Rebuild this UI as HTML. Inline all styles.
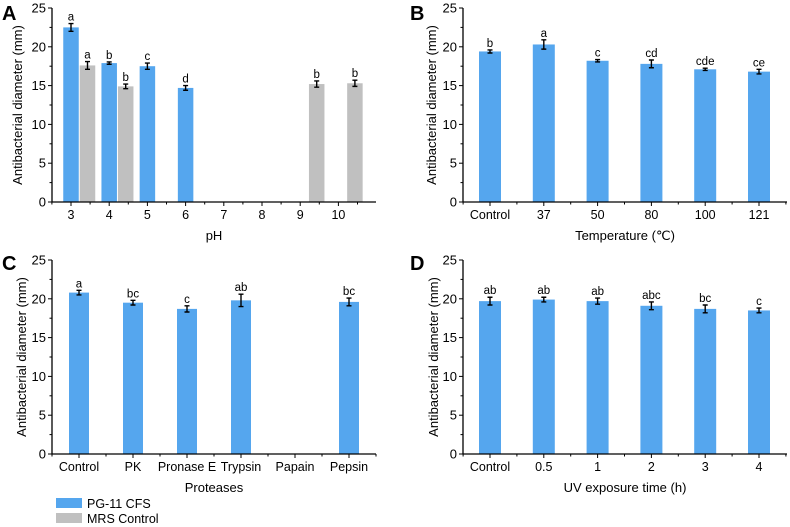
<!DOCTYPE html>
<html><head><meta charset="utf-8"><style>
body{margin:0;background:#fff;}
svg{display:block;font-family:"Liberation Sans",Arial,sans-serif;}
</style></head><body>
<svg id="fig" width="790" height="527" viewBox="0 0 790 527"></svg>
<script>
const aCats=["3","4","5","6","7","8","9","10"];
const aBlue=[22.5,17.9,17.5,14.7,null,null,null,null];
const aBlueErr=[0.5,0.15,0.4,0.3,0,0,0,0];
const aBlueLet=["a","b","c","d","","","",""];
const aGray=[17.6,14.9,null,null,null,null,15.2,15.3];
const aGrayErr=[0.5,0.3,0,0,0,0,0.4,0.4];
const aGrayLet=["a","b","","","","","b","b"];
const bCats=["Control","37","50","80","100","121"];
const bVals=[19.4,20.3,18.2,17.8,17.1,16.8];
const bErr=[0.2,0.6,0.15,0.5,0.15,0.3];
const bLet=["b","a","c","cd","cde","ce"];
const cCats=["Control","PK","Pronase E","Trypsin","Papain","Pepsin"];
const cVals=[20.8,19.5,18.7,19.8,null,19.6];
const cErr=[0.3,0.3,0.4,0.8,0,0.5];
const cLet=["a","bc","c","ab","","bc"];
const dCats=["Control","0.5","1","2","3","4"];
const dVals=[19.7,19.9,19.7,19.1,18.7,18.5];
const dErr=[0.5,0.3,0.4,0.5,0.5,0.3];
const dLet=["ab","ab","ab","abc","bc","c"];
const yTicks=[0,5,10,15,20,25];

const NS="http://www.w3.org/2000/svg";
const svg=document.getElementById('fig');
function el(tag,attrs,parent,text){const e=document.createElementNS(NS,tag);for(const k in attrs)e.setAttribute(k,attrs[k]);if(text!==undefined)e.textContent=text;(parent||svg).appendChild(e);return e;}
const BLUE="#55A6EE",GRAY="#C0C0C0";

function panel(o){
  const g=el('g',{});
  
  
  const y=v=>o.y0-(v/25)*(o.y0-o.y25);
  const x=i=>o.xc0+i*o.step;
  const L=el('text',{x:o.lx,y:o.ly,'font-size':20,'font-weight':'bold',fill:'#000'},g,o.letter);
  
  
  o.series.forEach(s=>{
    s.vals.forEach((v,i)=>{
      if(v===null)return;
      const cx=x(i)+s.off;
      const r=el('rect',{x:cx-o.bw/2,y:y(v),width:o.bw,height:o.y0-y(v),fill:s.color},g);
      
      
      const e=s.err[i],t=y(v+e),b=y(v-e);
      el('path',{d:`M${cx} ${t}V${b}M${cx-2.5} ${t}H${cx+2.5}M${cx-2.5} ${b}H${cx+2.5}`,stroke:'#000','stroke-width':1.4,fill:'none'},g);
      const lt=el('text',{x:cx,y:t-3,'font-size':11.5,'text-anchor':'middle',fill:'#000'},g,s.lets[i]);
      
      
    });
  });
  el('path',{d:`M${o.ax0} ${o.y25}V${o.y0}H${o.ax1}`,stroke:'#000','stroke-width':1.3,fill:'none'},g);
  for(let v=0;v<=25;v+=2.5){const len=(v%5===0)?4:2.5;el('line',{x1:o.ax0-len,x2:o.ax0,y1:y(v),y2:y(v),stroke:'#000','stroke-width':1},g);}
  yTicks.forEach(v=>{const t=el('text',{x:o.ax0-6,y:y(v)+4.5,'font-size':13,'text-anchor':'end',fill:'#000'},g,v);
    });
  o.cats.forEach((c,i)=>{
    el('line',{x1:x(i),x2:x(i),y1:o.y0,y2:o.y0+4,stroke:'#000','stroke-width':1},g);
    el('line',{x1:x(i)+o.step/2,x2:x(i)+o.step/2,y1:o.y0,y2:o.y0+2.5,stroke:'#000','stroke-width':1},g);
    const t=el('text',{x:x(i),y:o.y0+17,'font-size':12.5,'text-anchor':'middle',fill:'#000'},g,c);
    
  });
  el('line',{x1:x(0)-o.step/2,x2:x(0)-o.step/2,y1:o.y0,y2:o.y0+2.5,stroke:'#000','stroke-width':1},g);
  const xt=el('text',{x:(o.ax0+o.ax1)/2,y:o.y0+38,'font-size':13,'text-anchor':'middle',fill:'#000'},g,o.xtitle);
  
  const cy=(o.y0+o.y25)/2;
  const yt=el('text',{x:o.ytx,y:cy,'font-size':13,'text-anchor':'middle',fill:'#000',transform:`rotate(-90 ${o.ytx} ${cy})`},g,'Antibacterial diameter (mm)');
  
}

panel({name:'panel-a-ph',letter:'A',lx:2,ly:20,y0:202,y25:8,ax0:52,ax1:376,xc0:71,step:38.2,bw:15.5,cats:aCats,xtitle:'pH',ytx:22,
  series:[{key:'cfs',vals:aBlue,err:aBlueErr,lets:aBlueLet,color:BLUE,off:0},{key:'mrs',vals:aGray,err:aGrayErr,lets:aGrayLet,color:GRAY,off:16.5}]});
panel({name:'panel-b-temperature',letter:'B',lx:410,ly:20,y0:202,y25:8,ax0:463,ax1:787,xc0:490,step:53.8,bw:22,cats:bCats,xtitle:'Temperature (℃)',ytx:436,
  series:[{key:'cfs',vals:bVals,err:bErr,lets:bLet,color:BLUE,off:0}]});
panel({name:'panel-c-proteases',letter:'C',lx:2,ly:270,y0:454,y25:260,ax0:52,ax1:376,xc0:79,step:54,bw:20,cats:cCats,xtitle:'Proteases',ytx:26,
  series:[{key:'cfs',vals:cVals,err:cErr,lets:cLet,color:BLUE,off:0}]});
panel({name:'panel-d-uv',letter:'D',lx:410,ly:270,y0:454,y25:260,ax0:463,ax1:787,xc0:490,step:53.8,bw:22,cats:dCats,xtitle:'UV exposure time (h)',ytx:438,
  series:[{key:'cfs',vals:dVals,err:dErr,lets:dLet,color:BLUE,off:0}]});
</script>
<svg style="position:absolute;left:0;top:0" width="300" height="527">
  <g>
    <rect x="56" y="498" width="26" height="10" fill="#55A6EE"/>
    <text x="87" y="508" font-size="12.5" font-family="Liberation Sans,Arial,sans-serif">PG-11 CFS</text>
  </g>
  <g>
    <rect x="56" y="513" width="26" height="10" fill="#C0C0C0"/>
    <text x="87" y="523" font-size="12.5" font-family="Liberation Sans,Arial,sans-serif">MRS Control</text>
  </g>
</svg>
</body></html>
